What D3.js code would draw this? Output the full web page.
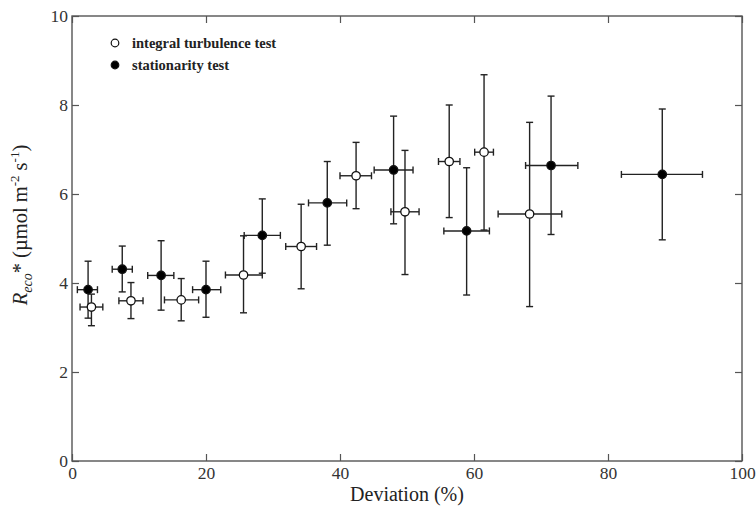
<!DOCTYPE html>
<html>
<head>
<meta charset="utf-8">
<script src="https://cdn.jsdelivr.net/npm/d3@7"></script>
<style>
  body { margin: 0; background: #fff; }
  svg { display: block; }
  text { font-family: "Liberation Serif", "Times New Roman", serif; }
</style>
</head>
<body>
<svg id="chart" width="756" height="512"></svg>
<script>
// ---- data ----
const xTicks = [0, 20, 40, 60, 80, 100];
const yTicks = [0, 2, 4, 6, 8, 10];
const seriesNames = ["integral turbulence test", "stationarity test"];

// integral turbulence test (open circles)
const itDev    = [2.9, 8.8, 16.3, 25.6, 34.2, 42.4, 49.7, 56.3, 61.5, 68.3];
const itDevLo  = [1.2, 7.0, 13.8, 22.9, 31.9, 40.0, 47.6, 54.7, 60.1, 63.6];
const itDevHi  = [4.6, 10.6, 18.9, 28.4, 36.5, 44.7, 51.8, 57.9, 62.9, 73.1];
const itReco   = [3.46, 3.60, 3.62, 4.18, 4.82, 6.41, 5.60, 6.73, 6.94, 5.55];
const itRecoLo = [3.04, 3.20, 3.15, 3.33, 3.87, 5.67, 4.19, 5.47, 5.19, 3.47];
const itRecoHi = [3.75, 4.01, 4.10, 5.06, 5.77, 7.16, 6.98, 8.00, 8.68, 7.61];

// stationarity test (filled circles)
const stDev    = [2.4, 7.5, 13.3, 20.0, 28.4, 38.1, 48.0, 58.9, 71.5, 88.1];
const stDevLo  = [0.8, 6.0, 11.3, 18.0, 25.7, 35.3, 45.1, 55.5, 67.7, 82.0];
const stDevHi  = [3.8, 9.0, 15.2, 22.2, 31.1, 41.0, 50.9, 62.3, 75.5, 94.1];
const stReco   = [3.85, 4.31, 4.17, 3.85, 5.07, 5.80, 6.54, 5.17, 6.64, 6.44];
const stRecoLo = [3.21, 3.80, 3.39, 3.23, 4.22, 4.85, 5.33, 3.73, 5.09, 4.97];
const stRecoHi = [4.49, 4.83, 4.95, 4.49, 5.89, 6.73, 7.75, 6.59, 8.20, 7.91];

// ---- build ----
function rows(x, xl, xh, y, yl, yh, filled) {
  return x.map((d, i) => ({x: d, xl: xl[i], xh: xh[i], y: y[i], yl: yl[i], yh: yh[i], filled}));
}
const data = rows(itDev, itDevLo, itDevHi, itReco, itRecoLo, itRecoHi, false)
  .concat(rows(stDev, stDevLo, stDevHi, stReco, stRecoLo, stRecoHi, true));

const svg = d3.select("#chart");
const L = 72, R = 742, T = 16, B = 461;
const x = d3.scaleLinear().domain([0, 100]).range([L, R]);
const y = d3.scaleLinear().domain([0, 10]).range([B, T]);

const axisColor = "#555";
const tickLen = 7;

// frame
svg.append("rect").attr("x", L).attr("y", T).attr("width", R - L).attr("height", B - T)
  .attr("fill", "none").attr("stroke", axisColor).attr("stroke-width", 1.4);

function styleAxis(g, labels) {
  g.attr("font-family", null);
  g.select(".domain").remove();
  g.selectAll(".tick line").attr("stroke", axisColor).attr("stroke-width", 1.2);
  g.selectAll(".tick text").attr("fill", labels ? "#333" : "none")
    .style("font-size", "17.5px");
}

svg.append("g").attr("transform", `translate(0,${B})`)
  .call(d3.axisBottom(x).tickValues(xTicks).tickSize(-tickLen).tickPadding(6).tickFormat(d3.format("d")))
  .call(g => styleAxis(g, true));
svg.append("g").attr("transform", `translate(0,${T})`)
  .call(d3.axisTop(x).tickValues(xTicks).tickSize(-tickLen).tickFormat(""))
  .call(g => styleAxis(g, false));
svg.append("g").attr("transform", `translate(${L},0)`)
  .call(d3.axisLeft(y).tickValues(yTicks).tickSize(-tickLen).tickPadding(4).tickFormat(d3.format("d")))
  .call(g => styleAxis(g, true));
svg.append("g").attr("transform", `translate(${R},0)`)
  .call(d3.axisRight(y).tickValues(yTicks).tickSize(-tickLen).tickFormat(""))
  .call(g => styleAxis(g, false));

// error bars
const cap = 3.5;
const barColor = "#222";
const eb = svg.append("g").attr("stroke", barColor).attr("stroke-width", 1.4).attr("fill", "none");
data.forEach(d => {
  const cx = x(d.x), cy = y(d.y);
  // vertical
  eb.append("line").attr("x1", cx).attr("x2", cx).attr("y1", y(d.yl)).attr("y2", y(d.yh));
  eb.append("line").attr("x1", cx - cap).attr("x2", cx + cap).attr("y1", y(d.yl)).attr("y2", y(d.yl));
  eb.append("line").attr("x1", cx - cap).attr("x2", cx + cap).attr("y1", y(d.yh)).attr("y2", y(d.yh));
  // horizontal
  eb.append("line").attr("x1", x(d.xl)).attr("x2", x(d.xh)).attr("y1", cy).attr("y2", cy);
  eb.append("line").attr("x1", x(d.xl)).attr("x2", x(d.xl)).attr("y1", cy - cap).attr("y2", cy + cap);
  eb.append("line").attr("x1", x(d.xh)).attr("x2", x(d.xh)).attr("y1", cy - cap).attr("y2", cy + cap);
});

// markers
svg.append("g").selectAll("circle").data(data).join("circle")
  .attr("cx", d => x(d.x)).attr("cy", d => y(d.y)).attr("r", 4.2)
  .attr("fill", d => d.filled ? "#000" : "#fff")
  .attr("stroke", "#111").attr("stroke-width", 1.3);

// legend
const leg = svg.append("g");
[[false, 43], [true, 65]].forEach(([filled, ly], i) => {
  leg.append("circle").attr("cx", 115).attr("cy", ly).attr("r", 3.8)
    .attr("fill", filled ? "#000" : "#fff").attr("stroke", "#111").attr("stroke-width", 1.2);
  leg.append("text").attr("x", 132).attr("y", ly + 4.5).text(seriesNames[i])
    .attr("fill", "#222").style("font-size", "14.5px").style("font-weight", "bold");
});

// axis titles
svg.append("text").attr("x", (L + R) / 2).attr("y", 501).attr("text-anchor", "middle")
  .attr("fill", "#222").style("font-size", "20px").text("Deviation (%)");

const yt = svg.append("text").attr("transform", "translate(27,225) rotate(-90)")
  .attr("text-anchor", "middle").attr("fill", "#222").style("font-size", "20.5px");
yt.append("tspan").style("font-style", "italic").text("R");
yt.append("tspan").style("font-style", "italic").style("font-size", "14px").attr("dy", 5).text("eco");
yt.append("tspan").attr("dy", -5).text("* (µmol m");
yt.append("tspan").style("font-size", "13px").attr("dy", -8).text("-2");
yt.append("tspan").attr("dy", 8).text(" s");
yt.append("tspan").style("font-size", "13px").attr("dy", -8).text("-1");
yt.append("tspan").attr("dy", 8).text(")");
</script>
</body>
</html>
